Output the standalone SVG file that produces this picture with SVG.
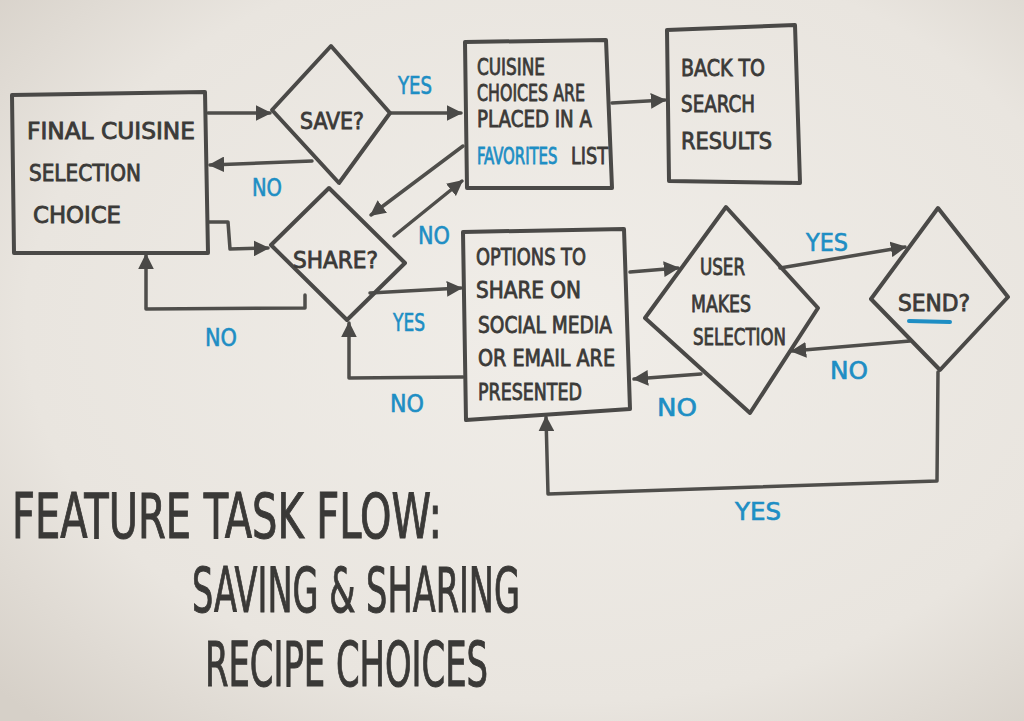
<svg xmlns="http://www.w3.org/2000/svg" width="1024" height="721" viewBox="0 0 1024 721">
<defs>
<radialGradient id="bg" cx="55%" cy="45%" r="75%">
<stop offset="0" stop-color="#f0ede8"/>
<stop offset="0.7" stop-color="#e9e5df"/>
<stop offset="1" stop-color="#d6d0c8"/>
</radialGradient>
<marker id="ah" viewBox="0 0 10 10" refX="9" refY="5" markerWidth="4.5" markerHeight="4.5" orient="auto" markerUnits="strokeWidth">
<path d="M0,0 L10,5 L0,10 z" fill="#4a4947"/>
</marker>
<style>
.shape{fill:none;stroke:#4a4947;stroke-width:4;stroke-linejoin:round;stroke-linecap:round}
.conn{fill:none;stroke:#4f4e4b;stroke-width:3.5;stroke-linejoin:round;stroke-linecap:round}
.t{font-family:"Liberation Sans Narrow","DejaVu Sans Condensed","Liberation Sans",sans-serif;font-size:23px;fill:#3b3a38;stroke:#3b3a38;stroke-width:0.8}
.blue{fill:#1e8ec4;stroke:#1e8ec4}
.lbl{font-family:"Liberation Sans Narrow","DejaVu Sans Condensed","Liberation Sans",sans-serif;font-size:25px;fill:#1e8ec4;stroke:#1e8ec4;stroke-width:0.6}
.title{font-family:"Liberation Sans Narrow","DejaVu Sans Condensed","Liberation Sans",sans-serif;font-size:62px;fill:#3a3937;stroke:#3a3937;stroke-width:1}
</style>
</defs>
<rect width="1024" height="721" fill="url(#bg)"/>

<g id="connectors">
<path class="conn" d="M208,113 L270,113" marker-end="url(#ah)"/>
<path class="conn" d="M312,161 L210,165" marker-end="url(#ah)"/>
<path class="conn" d="M390,113 L461,113" marker-end="url(#ah)"/>
<path class="conn" d="M612,103 L665,100" marker-end="url(#ah)"/>
<path class="conn" d="M463,146 L371,215" marker-end="url(#ah)"/>
<path class="conn" d="M394,236 L462,181" marker-end="url(#ah)"/>
<path class="conn" d="M208,222 L228,222 L230,249 L268,248" marker-end="url(#ah)"/>
<path class="conn" d="M305,295 L305,308 L146,309 L146,255" marker-end="url(#ah)"/>
<path class="conn" d="M370,293 L461,288" marker-end="url(#ah)"/>
<path class="conn" d="M463,377 L349,378 L349,323" marker-end="url(#ah)"/>
<path class="conn" d="M630,272 L678,268" marker-end="url(#ah)"/>
<path class="conn" d="M701,374 L634,379" marker-end="url(#ah)"/>
<path class="conn" d="M780,268 L905,247" marker-end="url(#ah)"/>
<path class="conn" d="M910,341 L792,351" marker-end="url(#ah)"/>
<path class="conn" d="M938,372 L937,481 L548,494 L546,417" marker-end="url(#ah)"/>
</g>

<g id="final-choice">
<path class="shape" d="M12,95 L205,92 L208,253 L14,253 Z"/>
<text class="t" x="27" y="139" textLength="168" lengthAdjust="spacingAndGlyphs">FINAL CUISINE</text>
<text class="t" x="29" y="181" textLength="112" lengthAdjust="spacingAndGlyphs">SELECTION</text>
<text class="t" x="33" y="223" textLength="88" lengthAdjust="spacingAndGlyphs">CHOICE</text>
</g>

<g id="save">
<path class="shape" d="M331,46 L390,113 L339,183 L272,110 Z"/>
<text class="t" x="300" y="129" textLength="64" lengthAdjust="spacingAndGlyphs">SAVE?</text>
</g>

<g id="favorites">
<path class="shape" d="M465,42 L606,40 L612,188 L467,188 Z"/>
<text class="t" x="477" y="75" textLength="68" lengthAdjust="spacingAndGlyphs">CUISINE</text>
<text class="t" x="477" y="101" textLength="108" lengthAdjust="spacingAndGlyphs">CHOICES ARE</text>
<text class="t" x="477" y="127" textLength="115" lengthAdjust="spacingAndGlyphs">PLACED IN A</text>
<text class="t blue" transform="translate(477,164) scale(0.72,1)" x="0" y="0">FAVORITES</text>
<text class="t" x="571" y="164" textLength="37" lengthAdjust="spacingAndGlyphs">LIST</text>
</g>

<g id="back-to-search">
<path class="shape" d="M667,30 L795,25 L800,183 L669,181 Z"/>
<text class="t" x="681" y="76" textLength="84" lengthAdjust="spacingAndGlyphs">BACK TO</text>
<text class="t" x="681" y="112" textLength="74" lengthAdjust="spacingAndGlyphs">SEARCH</text>
<text class="t" x="681" y="149" textLength="91" lengthAdjust="spacingAndGlyphs">RESULTS</text>
</g>

<g id="share">
<path class="shape" d="M329,188 L405,263 L347,320 L271,245 Z"/>
<text class="t" x="293" y="268" textLength="85" lengthAdjust="spacingAndGlyphs">SHARE?</text>
</g>

<g id="options">
<path class="shape" d="M463,232 L624,229 L630,409 L466,420 Z"/>
<text class="t" x="476" y="265" textLength="110" lengthAdjust="spacingAndGlyphs">OPTIONS TO</text>
<text class="t" x="476" y="298" textLength="105" lengthAdjust="spacingAndGlyphs">SHARE ON</text>
<text class="t" x="478" y="333" textLength="134" lengthAdjust="spacingAndGlyphs">SOCIAL MEDIA</text>
<text class="t" x="478" y="366" textLength="137" lengthAdjust="spacingAndGlyphs">OR EMAIL ARE</text>
<text class="t" x="478" y="400" textLength="104" lengthAdjust="spacingAndGlyphs">PRESENTED</text>
</g>

<g id="user-selection">
<path class="shape" d="M726,207 L818,308 L750,413 L645,318 Z"/>
<text class="t" x="700" y="275" textLength="45" lengthAdjust="spacingAndGlyphs">USER</text>
<text class="t" x="691" y="312" textLength="60" lengthAdjust="spacingAndGlyphs">MAKES</text>
<text class="t" x="693" y="345" textLength="93" lengthAdjust="spacingAndGlyphs">SELECTION</text>
</g>

<g id="send">
<path class="shape" d="M938,208 L1008,297 L940,370 L871,299 Z"/>
<text class="t" x="898" y="311" textLength="72" lengthAdjust="spacingAndGlyphs">SEND?</text>
<path d="M909,321 L950,322" stroke="#1e8ec4" stroke-width="4" stroke-linecap="round" fill="none"/>
</g>

<g id="labels">
<text class="lbl" x="398" y="94" textLength="34" lengthAdjust="spacingAndGlyphs">YES</text>
<text class="lbl" x="252" y="196" textLength="30" lengthAdjust="spacingAndGlyphs">NO</text>
<text class="lbl" x="418" y="244" textLength="32" lengthAdjust="spacingAndGlyphs">NO</text>
<text class="lbl" x="393" y="331" textLength="32" lengthAdjust="spacingAndGlyphs">YES</text>
<text class="lbl" x="205" y="346" textLength="32" lengthAdjust="spacingAndGlyphs">NO</text>
<text class="lbl" x="390" y="412" textLength="34" lengthAdjust="spacingAndGlyphs">NO</text>
<text class="lbl" x="657" y="416" textLength="40" lengthAdjust="spacingAndGlyphs">NO</text>
<text class="lbl" x="806" y="251" textLength="42" lengthAdjust="spacingAndGlyphs">YES</text>
<text class="lbl" x="830" y="379" textLength="38" lengthAdjust="spacingAndGlyphs">NO</text>
<text class="lbl" x="735" y="520" textLength="46" lengthAdjust="spacingAndGlyphs">YES</text>
</g>

<g id="title">
<text class="title" x="12" y="538" textLength="430" lengthAdjust="spacingAndGlyphs">FEATURE TASK FLOW:</text>
<text class="title" x="192" y="612" textLength="328" lengthAdjust="spacingAndGlyphs">SAVING &amp; SHARING</text>
<text class="title" x="205" y="686" textLength="283" lengthAdjust="spacingAndGlyphs">RECIPE CHOICES</text>
</g>
</svg>
